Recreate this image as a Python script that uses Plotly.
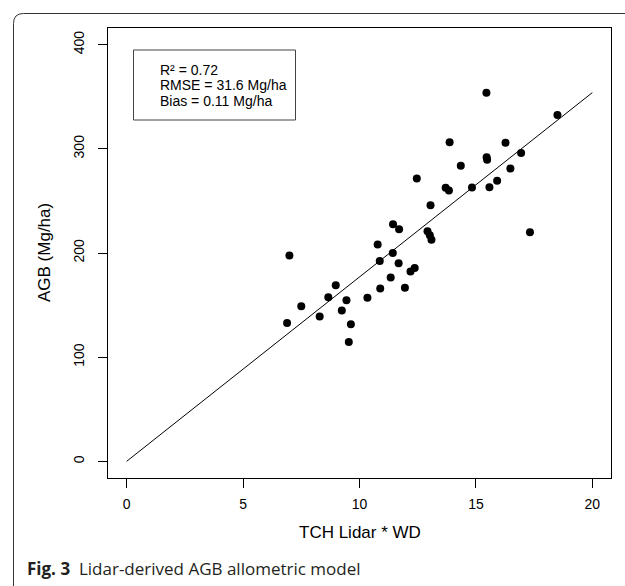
import plotly.graph_objects as go

# ---- data ----
tch_wd = [15.45, 18.50, 13.87, 16.27, 16.94, 15.46, 15.48, 14.35, 16.48, 12.46,
          13.70, 13.84, 14.83, 15.58, 15.91, 13.05, 11.44, 11.70, 12.92, 13.02,
          13.09, 17.32, 6.99, 10.78, 11.43, 10.87, 11.68, 12.37, 12.19, 11.34,
          8.98, 10.89, 11.95, 8.66, 10.34, 9.44, 7.50, 9.24, 8.29, 6.89,
          9.63, 9.54]
agb = [353.9, 332.4, 306.4, 305.9, 295.9, 292.0, 289.5, 283.8, 281.2, 271.6,
       262.6, 260.0, 262.9, 263.2, 269.4, 245.9, 227.7, 222.9, 220.9, 217.1,
       212.7, 220.0, 197.6, 208.2, 200.0, 192.3, 190.2, 185.6, 182.2, 176.5,
       169.1, 165.9, 166.6, 157.5, 157.0, 154.7, 148.9, 144.8, 139.0, 132.9,
       131.6, 114.5]
fit_x = [0, 20]
fit_slope = 17.7
fit_y = [fit_slope * v for v in fit_x]

x_ticks = [0, 5, 10, 15, 20]
y_ticks = [0, 100, 200, 300, 400]
stats_lines = ["R\u00b2 = 0.72", "RMSE = 31.6 Mg/ha", "Bias = 0.11 Mg/ha"]
x_title = "TCH Lidar * WD"
y_title = "AGB (Mg/ha)"
caption_bold = "Fig. 3"
caption_text = "Lidar-derived AGB allometric model"

# ---- layout geometry (pixels) ----
W, H = 625, 586
L, R, T, B = 108, 611, 28, 478


def px(x):
    return (x - L) / (R - L)


def py(y):
    return (B - y) / (B - T)


fig = go.Figure()
fig.add_trace(go.Scatter(x=fit_x, y=fit_y, mode="lines",
                         line=dict(color="black", width=1), hoverinfo="skip"))
fig.add_trace(go.Scatter(x=tch_wd, y=agb, mode="markers",
                         marker=dict(color="black", size=8, line=dict(width=0))))

axis_common = dict(showline=True, mirror=True, linecolor="black", linewidth=1,
                   ticks="outside", ticklen=9, tickcolor="black", tickwidth=1,
                   showgrid=False, zeroline=False,
                   tickfont=dict(family="Liberation Sans", size=14, color="black"))

fig.update_layout(
    width=W, height=H,
    margin=dict(l=L, r=W - R, t=T, b=H - B, pad=0),
    paper_bgcolor="white", plot_bgcolor="white",
    showlegend=False,
    xaxis=dict(range=[-0.8, 20.8], tickvals=x_ticks, ticklabelstandoff=4, **axis_common),
    yaxis=dict(range=[-16, 416], tickvals=y_ticks, tickangle=-90, ticklabelstandoff=8,
               **axis_common),
)

shapes = []
# stats box
shapes.append(dict(type="rect", xref="paper", yref="paper",
                   x0=px(133.5), x1=px(295.5), y0=py(120), y1=py(50),
                   line=dict(color="#444444", width=1)))
# journal frame with rounded top-left corner
r = 10
fx, fy = 13.5, 13.5
path = (f"M {px(fx)},{py(H + 5)} L {px(fx)},{py(fy + r)} "
        f"Q {px(fx)},{py(fy)} {px(fx + r)},{py(fy)} L {px(W + 5)},{py(fy)}")
shapes.append(dict(type="path", xref="paper", yref="paper", path=path,
                   line=dict(color="#333333", width=1)))
fig.update_layout(shapes=shapes)

ann = []
ys = [69.5, 85.2, 101]
for txt, yy in zip(stats_lines, ys):
    ann.append(dict(text=txt, xref="paper", yref="paper", x=px(158.5), y=py(yy),
                    xanchor="left", yanchor="middle", showarrow=False, borderpad=0,
                    font=dict(family="Liberation Sans", size=14, color="black")))
ann.append(dict(text=x_title, xref="paper", yref="paper", x=px(360), y=py(532),
                xanchor="center", yanchor="middle", showarrow=False,
                font=dict(family="Liberation Sans", size=17, color="black")))
ann.append(dict(text=y_title, xref="paper", yref="paper", x=px(44), y=py(253),
                xanchor="center", yanchor="middle", showarrow=False, textangle=-90,
                font=dict(family="Liberation Sans", size=17, color="black")))
ann.append(dict(text=f"<b>{caption_bold}</b>  {caption_text}", xref="paper", yref="paper",
                x=px(25), y=py(568.5), xanchor="left", yanchor="middle", showarrow=False,
                font=dict(family="Open Sans", size=17, color="#231f20")))
fig.update_layout(annotations=ann)

fig.write_html("out.html", config={"displayModeBar": False},
               post_script="document.body.style.margin='0';document.body.style.overflow='hidden';")
